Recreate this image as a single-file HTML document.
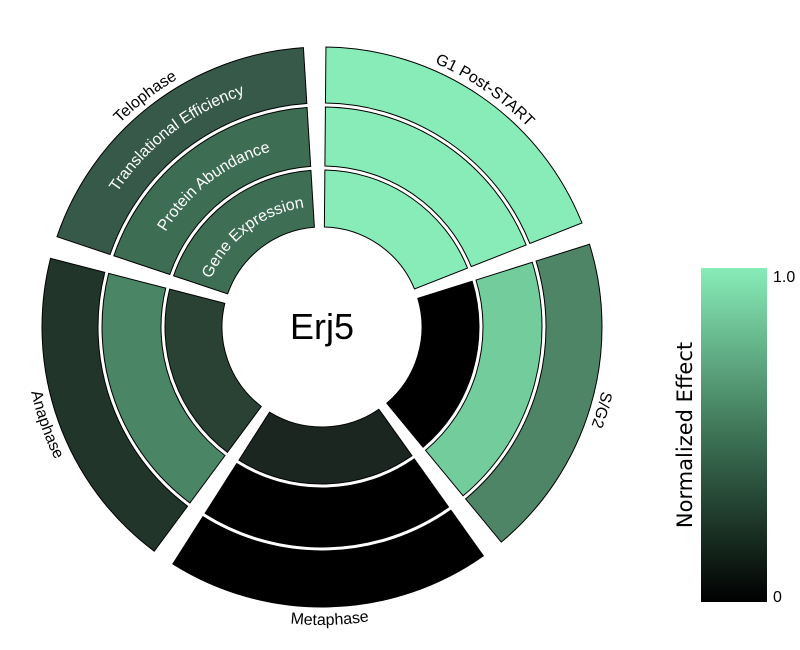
<!DOCTYPE html>
<html><head><meta charset="utf-8"><style>
html,body{margin:0;padding:0;background:#fff;}
svg{display:block;font-family:"Liberation Sans",sans-serif;}
</style></head><body>
<svg id="s" width="800" height="650" viewBox="0 0 800 650" xmlns="http://www.w3.org/2000/svg">
<defs>
<linearGradient id="lg" x1="0" y1="0" x2="0" y2="1">
<stop offset="0" stop-color="#88ecb8"/><stop offset="0.5" stop-color="#3d7355"/><stop offset="1" stop-color="#000"/>
</linearGradient>
</defs>
<g id="g"></g>
<circle cx="322" cy="327" r="99" fill="#fff"/>
<text x="322" y="339" font-size="36" text-anchor="middle" fill="#000">Erj5</text>
<rect x="701" y="268" width="66" height="334" fill="url(#lg)"/>
<text x="773" y="282" font-size="16" fill="#000">1.0</text>
<text x="773" y="602" font-size="16" fill="#000">0</text>
<text transform="translate(692,435) rotate(-90)" font-size="21" font-family="DejaVu Sans, sans-serif" text-anchor="middle" fill="#000">Normalized Effect</text>
</svg>
<script>
(function(){
var cx=322,cy=327,NS="http://www.w3.org/2000/svg",g=document.getElementById('g');
var rings=[[100,157],[161,220],[224,280]];
var off=1.5;
var segs=[
 {c:34.5,name:"G1 Post-START",col:["#88ecb8","#88ecb8","#88ecb8"],rev:false},
 {c:106.5,name:"S/G2",col:["#000000","#72cc9c","#4e8566"],rev:false},
 {c:178.5,name:"Metaphase",col:["#1b2620","#000000","#000000"],rev:true},
 {c:250.5,name:"Anaphase",col:["#2a4234","#4a8566","#22352a"],rev:true},
 {c:322.5,name:"Telophase",col:["#3e6e53","#3d6d52","#36594a"],rev:false}
];
function pt(r,a){var t=a*Math.PI/180;return [cx+r*Math.sin(t),cy-r*Math.cos(t)];}
function el(n,at,p){var e=document.createElementNS(NS,n);for(var k in at)e.setAttribute(k,at[k]);(p||g).appendChild(e);return e;}
var id=0;
function arcPath(r,a0,a1,rev){
 var p0=pt(r,rev?a1:a0),p1=pt(r,rev?a0:a1),lg=Math.abs(a1-a0)>180?1:0;
 return "M"+p0[0]+" "+p0[1]+" A"+r+" "+r+" 0 "+lg+" "+(rev?0:1)+" "+p1[0]+" "+p1[1];
}
segs.forEach(function(s){
 rings.forEach(function(rg,i){
  var r0=rg[0],r1=rg[1];
  var a=s.c-34,b=s.c+34;
  var d0=Math.asin(off/r0)*180/Math.PI,d1=Math.asin(off/r1)*180/Math.PI;
  var A=pt(r1,a+d1),B=pt(r1,b-d1),C=pt(r0,b-d0),D=pt(r0,a+d0);
  var d="M"+A+" A"+r1+" "+r1+" 0 0 1 "+B+" L"+C+" A"+r0+" "+r0+" 0 0 0 "+D+" Z";
  el("path",{d:d.replace(/,/g," "),fill:s.col[i],stroke:"#000","stroke-width":"1"});
 });
 var r=s.rev?298:287;
 var pid="p"+(id++);
 el("path",{id:pid,d:arcPath(r,s.c-60,s.c+60,s.rev),fill:"none"});
 var t=el("text",{"font-size":"16",fill:"#000","text-anchor":"middle"});
 var tp=el("textPath",{href:"#"+pid,startOffset:"50%"},t);
 tp.textContent=s.name;
});
var lab=[["Gene Expression",121],["Protein Abundance",183],["Translational Efficiency",245]];
lab.forEach(function(l){
 var pid="p"+(id++);
 el("path",{id:pid,d:arcPath(l[1],322.5-60,322.5+60,false),fill:"none"});
 var t=el("text",{"font-size":"16",fill:"#fff","text-anchor":"middle"});
 var tp=el("textPath",{href:"#"+pid,startOffset:"50%"},t);
 tp.textContent=l[0];
});
})();
</script>
</body></html>
